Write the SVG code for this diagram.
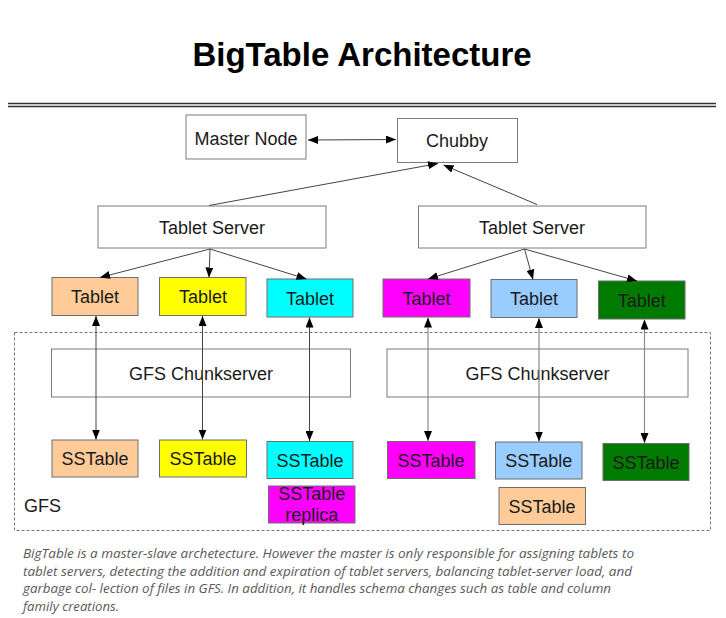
<svg xmlns="http://www.w3.org/2000/svg" width="726" height="618" viewBox="0 0 726 618">
<defs>
<style>
.box{stroke:#6e6e6e;stroke-width:1}
.wbox{fill:#ffffff;stroke:#7a7a7a;stroke-width:1}
.lbl{font-family:"Liberation Sans",Arial,sans-serif;font-size:18px;fill:#1a1a1a;text-anchor:middle}
.con{stroke:#444;stroke-width:1;fill:none}
.conl{stroke:#8a8a8a;stroke-width:1.2;fill:none}
.cap{font-family:"Open Sans","Liberation Sans",sans-serif;font-style:italic;font-size:13px;fill:#595959}
</style>
<marker id="ah" viewBox="0 0 10 8" refX="10" refY="4" markerWidth="10" markerHeight="8" markerUnits="userSpaceOnUse" orient="auto-start-reverse">
<path d="M0,0 L10,4 L0,8 z" fill="#000"/>
</marker>
</defs>
<rect width="726" height="618" fill="#ffffff"/>
<text x="362" y="66" font-family="'Liberation Sans',Arial,sans-serif" font-weight="bold" font-size="33" text-anchor="middle" fill="#000">BigTable Architecture</text>
<line x1="8" y1="103.5" x2="716" y2="103.5" stroke="#333" stroke-width="1.5"/>
<line x1="8" y1="106.5" x2="716" y2="106.5" stroke="#333" stroke-width="1.5"/>

<g id="gfs">
<rect x="14.5" y="332.5" width="696" height="198" fill="none" stroke="#777" stroke-width="1" stroke-dasharray="3,2"/>
<text x="24" y="512" font-family="'Liberation Sans',Arial,sans-serif" font-size="18" fill="#1a1a1a">GFS</text>
</g>

<g id="master"><rect class="wbox" x="186" y="115" width="120" height="44"/><text class="lbl" x="246" y="144.5">Master Node</text></g>
<g id="chubby"><rect class="wbox" x="397.5" y="118.5" width="120" height="44"/><text class="lbl" x="457" y="147">Chubby</text></g>
<g id="ts1"><rect class="wbox" x="98" y="206" width="228" height="42"/><text class="lbl" x="212" y="233.5">Tablet Server</text></g>
<g id="ts2"><rect class="wbox" x="418.5" y="206" width="227.5" height="42"/><text class="lbl" x="532" y="233.5">Tablet Server</text></g>

<g id="t1"><rect class="box" x="52" y="277.5" width="86" height="38" fill="#FFCC99"/><text class="lbl" x="95" y="303">Tablet</text></g>
<g id="t2"><rect class="box" x="159.5" y="277.5" width="86.5" height="38" fill="#FFFF00"/><text class="lbl" x="203" y="303">Tablet</text></g>
<g id="t3"><rect class="box" x="267" y="279" width="86" height="38" fill="#00FFFF"/><text class="lbl" x="310" y="304.5">Tablet</text></g>
<g id="t4"><rect class="box" x="383" y="279" width="87" height="38" fill="#FF00FF"/><text class="lbl" x="426.5" y="304.5">Tablet</text></g>
<g id="t5"><rect class="box" x="491" y="279.5" width="86" height="38" fill="#99CCFF"/><text class="lbl" x="534" y="305">Tablet</text></g>
<g id="t6"><rect class="box" x="598.5" y="281" width="86.5" height="38" fill="#007A00"/><text class="lbl" x="641.7" y="306.5">Tablet</text></g>

<g id="cs1"><rect class="wbox" x="51.5" y="349" width="299" height="48" fill="none"/><text class="lbl" x="201" y="379.5">GFS Chunkserver</text></g>
<g id="cs2"><rect class="wbox" x="387" y="349" width="301" height="48" fill="none"/><text class="lbl" x="537.5" y="379.5">GFS Chunkserver</text></g>

<g id="s1"><rect class="box" x="52" y="440" width="86" height="37" fill="#FFCC99"/><text class="lbl" x="95" y="465">SSTable</text></g>
<g id="s2"><rect class="box" x="159.5" y="440" width="87" height="37" fill="#FFFF00"/><text class="lbl" x="203" y="465">SSTable</text></g>
<g id="s3"><rect class="box" x="267" y="441.5" width="86" height="37" fill="#00FFFF"/><text class="lbl" x="310" y="466.5">SSTable</text></g>
<g id="s3r"><rect class="box" x="268.5" y="486" width="86.5" height="37" fill="#FF00FF"/><text class="lbl" x="311.7" y="500">SSTable</text><text class="lbl" x="311.7" y="520.5">replica</text></g>
<g id="s4"><rect class="box" x="387.5" y="441.5" width="87.5" height="37" fill="#FF00FF"/><text class="lbl" x="431" y="466.5">SSTable</text></g>
<g id="s5"><rect class="box" x="495.5" y="442" width="86.5" height="37" fill="#99CCFF"/><text class="lbl" x="538.7" y="467">SSTable</text></g>
<g id="s6"><rect class="box" x="603" y="443.5" width="86" height="37" fill="#007A00"/><text class="lbl" x="646" y="468.5">SSTable</text></g>
<g id="s7"><rect class="box" x="499" y="487.5" width="86.5" height="37" fill="#FFCC99"/><text class="lbl" x="542" y="512.5">SSTable</text></g>

<g id="connectors">
<line class="con" x1="308" y1="140" x2="396" y2="139.5" marker-start="url(#ah)" marker-end="url(#ah)"/>
<line class="con" x1="209" y1="205.5" x2="438" y2="163.5" marker-end="url(#ah)"/>
<line class="con" x1="537" y1="204.5" x2="443.5" y2="165" marker-end="url(#ah)"/>
<line class="con" x1="210" y1="249" x2="100" y2="277.5" marker-end="url(#ah)"/>
<line class="con" x1="210" y1="249" x2="209" y2="277.5" marker-end="url(#ah)"/>
<line class="con" x1="210" y1="249" x2="306.5" y2="279" marker-end="url(#ah)"/>
<line class="con" x1="524.5" y1="249" x2="428" y2="279" marker-end="url(#ah)"/>
<line class="con" x1="524.5" y1="249" x2="533" y2="279.5" marker-end="url(#ah)"/>
<line class="con" x1="524.5" y1="249" x2="637" y2="281" marker-end="url(#ah)"/>
<line class="con" x1="96" y1="316" x2="96" y2="439.5" marker-start="url(#ah)" marker-end="url(#ah)"/>
<line class="con" x1="202.5" y1="316" x2="202.5" y2="439.5" marker-start="url(#ah)" marker-end="url(#ah)"/>
<line class="con" x1="309.5" y1="317.5" x2="309.5" y2="441" marker-start="url(#ah)" marker-end="url(#ah)"/>
<line class="conl" x1="428" y1="317.5" x2="428" y2="441" marker-start="url(#ah)" marker-end="url(#ah)"/>
<line class="conl" x1="539" y1="318" x2="539" y2="441.5" marker-start="url(#ah)" marker-end="url(#ah)"/>
<line class="conl" x1="644.5" y1="319.5" x2="644.5" y2="443" marker-start="url(#ah)" marker-end="url(#ah)"/>
</g>

<g id="caption">
<text class="cap" x="23" y="558" textLength="611" lengthAdjust="spacingAndGlyphs">BigTable is a master-slave archetecture. However the master is only responsible for assigning tablets to</text>
<text class="cap" x="23" y="575.5" textLength="609" lengthAdjust="spacingAndGlyphs">tablet servers, detecting the addition and expiration of tablet servers, balancing tablet-server load, and</text>
<text class="cap" x="23" y="593" textLength="588" lengthAdjust="spacingAndGlyphs">garbage col- lection of files in GFS. In addition, it handles schema changes such as table and column</text>
<text class="cap" x="23" y="610.5" textLength="96" lengthAdjust="spacingAndGlyphs">family creations.</text>
</g>
</svg>
